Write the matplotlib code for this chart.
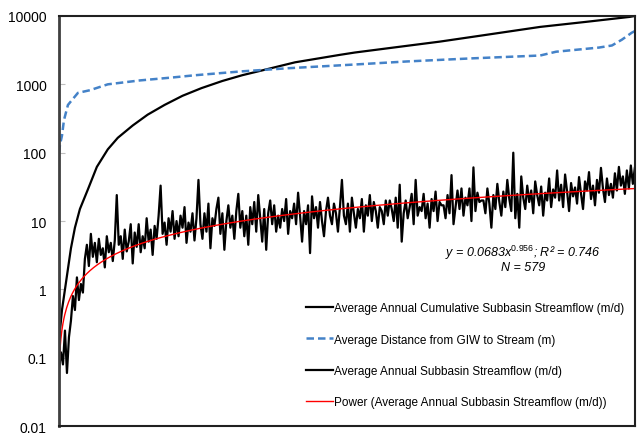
# import modules
import numpy as np
import matplotlib
matplotlib.use('Agg')
import matplotlib.pyplot as plt

plt.rcParams['font.family'] = ['Liberation Sans', 'DejaVu Sans']
plt.rcParams['mathtext.fontset'] = 'custom'
plt.rcParams['mathtext.it'] = 'Liberation Sans:italic'
plt.rcParams['mathtext.rm'] = 'Liberation Sans'

# average annual subbasin streamflow (m/d), read about every 2nd subbasin
flow = [0.07, 0.12, 0.08, 0.25, 0.06, 0.2, 0.35, 0.8, 0.5, 1.5,
        0.7, 1.2, 0.9, 2.8, 4.5, 2.2, 6.5, 3.0, 4.8, 2.5,
        5.5, 3.2, 4.0, 2.1, 6.0, 3.5, 4.8, 2.6, 5.2, 24,
        4.5, 6.0, 2.8, 7.5, 3.6, 5.0, 9.0, 2.4, 6.8, 4.2,
        9.0, 3.5, 6.0, 4.0, 11, 5.0, 7.5, 3.2, 8.5, 5.5,
        12, 33, 6.5, 9.5, 4.5, 11, 7.0, 14, 5.5, 10,
        6.0, 12, 8.0, 16, 4.8, 9.5, 7.0, 13, 5.2, 11,
        40, 9.0, 5.5, 13, 7.0, 18, 4.0, 11, 8.5, 15,
        22, 6.5, 13, 3.8, 10, 17, 8.0, 12, 5.5, 14,
        25, 8, 14, 6, 12, 4.5, 16, 9, 19, 7,
        24, 11, 5.0, 15, 3.8, 13, 20, 9, 17, 7,
        12, 8, 15, 10, 21, 6.5, 14, 11, 18, 9,
        26, 12, 5, 14, 9, 17, 3.4, 23, 11, 16,
        8, 19, 10, 6, 14, 22, 12, 9, 18, 13,
        7, 16, 40, 12, 9, 18, 7, 22, 13, 8,
        15, 11, 21, 7, 17, 12, 24, 10, 19, 14,
        8, 16, 14, 9, 20, 12, 20, 15, 10, 22,
        8, 34, 5, 13, 20, 11, 16, 25, 9, 40,
        12, 16, 14, 25, 11, 18, 8, 21, 14, 27,
        10, 19, 17, 17, 11, 24, 13, 47, 9, 16,
        28, 15, 30, 12, 22, 17, 30, 10, 61, 14,
        26, 19, 20, 20, 13, 30, 18, 8, 24, 15,
        35, 19, 12, 27, 16, 40, 21, 14, 100, 11,
        25, 8, 45, 22, 15, 33, 19, 28, 13, 38,
        24, 17, 32, 12, 26, 20, 42, 16, 29, 22,
        55, 20, 34, 16, 48, 27, 14, 36, 23, 31,
        18, 44, 25, 15, 38, 28, 52, 21, 33, 17,
        40, 26, 60, 30, 19, 42, 24, 35, 22, 50,
        28, 62, 33, 45, 25, 55, 30, 65, 35, 60]
flow_x = np.linspace(1, 579, len(flow))

# power trendline shown on the chart: y = a * x^b
fit_a = 0.0683
fit_b = 0.956

# average annual cumulative subbasin streamflow (m/d)
cum_x = [1, 2, 4, 7, 10, 13, 17, 22, 30, 39, 50, 60, 75, 90, 107, 125,
         144, 165, 185, 205, 238, 283, 298, 340, 383, 430, 484, 530, 574, 579]
cum = [0.07, 0.25, 0.5, 1.0, 2.0, 4.0, 8, 15, 29, 62, 112, 165, 250, 360,
       500, 680, 880, 1120, 1360, 1600, 2100, 2700, 2920, 3500, 4210, 5300,
       6920, 8200, 9700, 10000]

# average distance from GIW to stream (m)
dist_x = [1, 2, 4, 6, 10, 20, 32, 50, 82, 115, 138, 185, 231, 298, 350,
          416, 484, 500, 543, 556, 566, 576, 579]
dist = [100, 130, 178, 300, 500, 750, 820, 1000, 1140, 1260, 1360, 1550,
        1720, 1950, 2160, 2400, 2640, 3000, 3450, 3700, 4500, 5700, 6000]

y_ticks = [0.01, 0.1, 1, 10, 100, 1000, 10000]
y_labels = ['0.01', '0.1', '1', '10', '100', '1000', '10000']


def main():
    fig = plt.figure(figsize=(6.37, 4.35), dpi=100)
    ax = fig.add_axes([0.0926, 0.018, 0.904, 0.943])

    # power trendline over the subbasin range
    fit_x = np.linspace(1, 579, 600)
    fit_y = fit_a * fit_x ** fit_b

    ax.plot(cum_x, cum, color='black', linewidth=1.6,
            label='Average Annual Cumulative Subbasin Streamflow (m/d)')
    ax.plot(dist_x, dist, color='#4482C8', linewidth=1.8,
            linestyle=(0, (3, 1.6)),
            label='Average Distance from GIW to Stream (m)')
    ax.plot(flow_x, flow, color='black', linewidth=1.6,
            label='Average Annual Subbasin Streamflow (m/d)')
    ax.plot(fit_x, fit_y, color='#FF0000', linewidth=1.0,
            label='Power (Average Annual Subbasin Streamflow (m/d))')

    ax.set_yscale('log')
    ax.set_ylim(0.01, 10000)
    ax.set_xlim(1, 579)
    ax.set_yticks(y_ticks)
    ax.set_yticklabels(y_labels)
    ax.minorticks_off()
    ax.set_xticks([])
    ax.tick_params(axis='y', direction='in', length=4, color='#BFBFBF',
                   labelsize=10, pad=9)

    for side in ['top', 'right', 'bottom']:
        ax.spines[side].set_color('#202020')
        ax.spines[side].set_linewidth(1.5)
    ax.spines['left'].set_color('#404040')
    ax.spines['left'].set_linewidth(2.0)

    # equation of the trendline
    ax.text(0.806, 0.426,
            r'y = 0.0683x$^{\mathit{0.956}}$; R² = 0.746',
            transform=ax.transAxes, ha='center', va='center',
            fontsize=9, fontstyle='italic')
    ax.text(0.806, 0.389, 'N = 579', transform=ax.transAxes,
            ha='center', va='center', fontsize=9, fontstyle='italic')

    ax.legend(loc='upper left', bbox_to_anchor=(0.42, 0.313),
              frameon=False, fontsize=8.5, handlelength=2.3,
              handletextpad=0.15, labelspacing=1.62, borderaxespad=0)

    fig.savefig('out.png', dpi=100)


if __name__ == '__main__':
    main()
